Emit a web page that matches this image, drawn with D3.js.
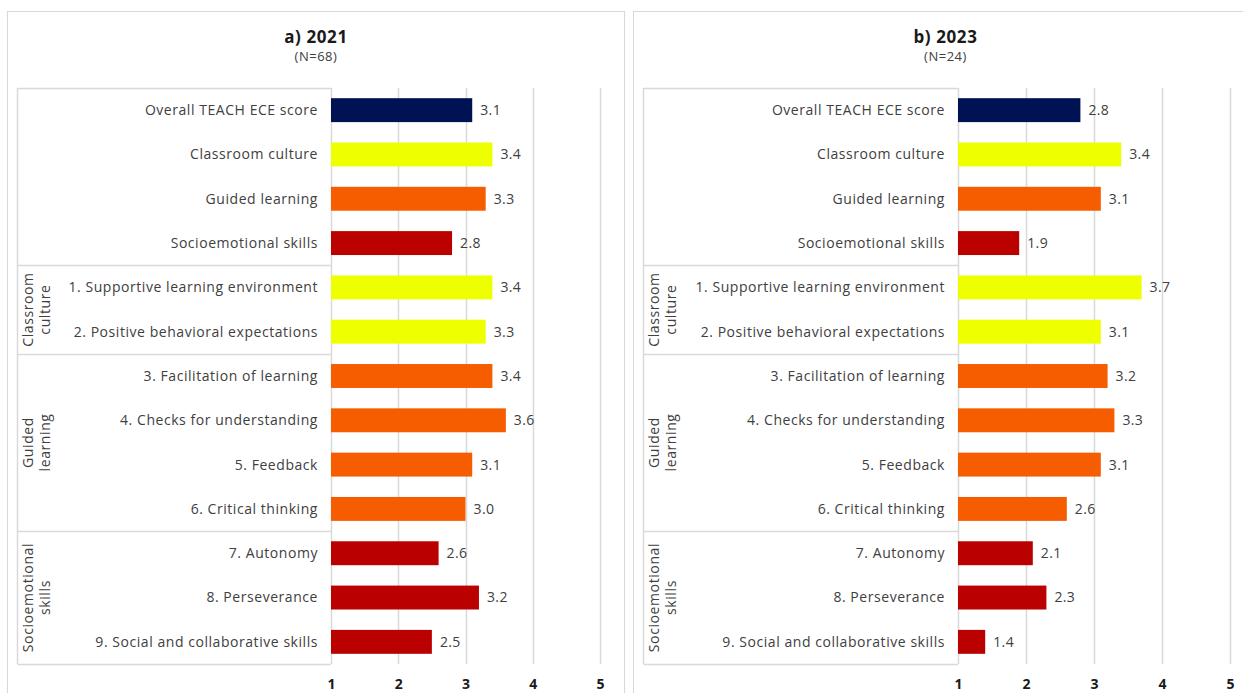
<!DOCTYPE html>
<html>
<head>
<meta charset="utf-8">
<script src="https://cdn.jsdelivr.net/npm/d3@7"></script>
<style>
  html, body { margin: 0; padding: 0; background: #fff; }
  svg { display: block; font-family: "Open Sans", "DejaVu Sans", sans-serif; }
</style>
</head>
<body>
<svg id="chart" width="1243" height="693"></svg>
<script>
// ---- data ----
const categories = [
  "Overall TEACH ECE score",
  "Classroom culture",
  "Guided learning",
  "Socioemotional skills",
  "1. Supportive learning environment",
  "2. Positive behavioral expectations",
  "3. Facilitation of learning",
  "4. Checks for understanding",
  "5. Feedback",
  "6. Critical thinking",
  "7. Autonomy",
  "8. Perseverance",
  "9. Social and collaborative skills"
];
const categoryType = ["overall","cc","gl","se","cc","cc","gl","gl","gl","gl","se","se","se"];
const values2021 = [3.1, 3.4, 3.3, 2.8, 3.4, 3.3, 3.4, 3.6, 3.1, 3.0, 2.6, 3.2, 2.5];
const values2023 = [2.8, 3.4, 3.1, 1.9, 3.7, 3.1, 3.2, 3.3, 3.1, 2.6, 2.1, 2.3, 1.4];
const groupNames = [["Classroom", "culture"], ["Guided", "learning"], ["Socioemotional", "skills"]];
const groupStart = [4, 6, 10];
const groupEnd = [6, 10, 13];
const tickValues = [1, 2, 3, 4, 5];
const panelTitles = ["a) 2021", "b) 2023"];
const panelSubtitles = ["(N=68)", "(N=24)"];

const colors = { overall: "#001254", cc: "#EEFF00", gl: "#F65D00", se: "#BB0000" };

// ---- drawing ----
const svg = d3.select("#chart");
const grid = "#d9d9d9";

const panels = [
  { x0: 7.5, w: 617, xa: 331, xb: 600, title: panelTitles[0], sub: panelSubtitles[0], values: values2021 },
  { x0: 633.5, w: 624, xa: 958, xb: 1230, title: panelTitles[1], sub: panelSubtitles[1], values: values2023 }
];

const yTop = 88, yBottom = 664;

panels.forEach(p => {
  const g = svg.append("g");

  // panel border
  g.append("rect")
    .attr("x", p.x0).attr("y", 11.5)
    .attr("width", p.w).attr("height", 700)
    .attr("fill", "#fff").attr("stroke", grid).attr("stroke-width", 1);

  const cx = p.x0 + p.w / 2;
  g.append("text").attr("x", cx).attr("y", 43)
    .attr("text-anchor", "middle").attr("font-size", 17).attr("font-weight", "bold")
    .attr("letter-spacing", "0.6px")
    .attr("fill", "#1a1a1a").text(p.title);
  g.append("text").attr("x", cx).attr("y", 61)
    .attr("text-anchor", "middle").attr("font-size", 13)
    .attr("letter-spacing", "0.5px")
    .attr("fill", "#404040").text(p.sub);

  const x = d3.scaleLinear().domain([1, 5]).range([p.xa, p.xb]);
  const y = d3.scaleBand().domain(categories).range([yTop, yBottom])
    .paddingInner(0.46).paddingOuter(0.23);
  const step = y.step();

  // gridlines
  g.selectAll(".grid").data(tickValues).enter().append("line")
    .attr("x1", d => Math.round(x(d)) + 0.5).attr("x2", d => Math.round(x(d)) + 0.5)
    .attr("y1", yTop).attr("y2", yBottom)
    .attr("stroke", grid).attr("stroke-width", 1.5);

  // table lines
  const tableLeft = p.x0 + 10;
  const boundaries = [0, 4, 6, 10, 13];
  g.selectAll(".hline").data(boundaries).enter().append("line")
    .attr("x1", tableLeft).attr("x2", x(1))
    .attr("y1", d => Math.round(yTop + d * step) + 0.5)
    .attr("y2", d => Math.round(yTop + d * step) + 0.5)
    .attr("stroke", grid).attr("stroke-width", 1.5);
  g.append("line")
    .attr("x1", tableLeft).attr("x2", tableLeft)
    .attr("y1", yTop).attr("y2", yBottom)
    .attr("stroke", grid).attr("stroke-width", 1.5);

  // bars
  g.selectAll(".bar").data(categories).enter().append("rect")
    .attr("x", x(1))
    .attr("y", d => y(d))
    .attr("width", (d, i) => x(p.values[i]) - x(1))
    .attr("height", y.bandwidth())
    .attr("fill", (d, i) => colors[categoryType[i]]);

  // value labels
  g.selectAll(".val").data(categories).enter().append("text")
    .attr("x", (d, i) => x(p.values[i]) + 8)
    .attr("y", d => y(d) + y.bandwidth() / 2)
    .attr("dy", "0.35em")
    .attr("font-size", 14).attr("fill", "#404040")
    .attr("letter-spacing", "0.4px")
    .text((d, i) => p.values[i].toFixed(1));

  // category labels
  g.selectAll(".cat").data(categories).enter().append("text")
    .attr("x", x(1) - 13)
    .attr("y", d => y(d) + y.bandwidth() / 2)
    .attr("dy", "0.35em")
    .attr("text-anchor", "end")
    .attr("font-size", 14).attr("fill", "#404040")
    .attr("letter-spacing", "0.55px")
    .text(d => d);

  // group labels
  groupNames.forEach((lines, gi) => {
    const cy = yTop + (groupStart[gi] + groupEnd[gi]) / 2 * step;
    const t = g.append("g").attr("transform", `translate(${p.x0 + 21},${cy}) rotate(-90)`);
    lines.forEach((ln, li) => {
      t.append("text").attr("x", 0).attr("y", li * 17)
        .attr("dy", "0.35em").attr("text-anchor", "middle")
        .attr("font-size", 14).attr("fill", "#404040")
        .attr("letter-spacing", "0.6px").text(ln);
    });
  });

  // x axis ticks
  const axis = d3.axisBottom(x).tickValues(tickValues).tickSize(0).tickPadding(0).tickFormat(d3.format("d"));
  const ax = g.append("g").attr("transform", `translate(0,${679})`).call(axis);
  ax.select(".domain").remove();
  ax.selectAll("text").attr("font-size", 14).attr("font-weight", "bold")
    .attr("fill", "#1a1a1a").attr("font-family", "\"Open Sans\", sans-serif");
});
</script>
</body>
</html>
